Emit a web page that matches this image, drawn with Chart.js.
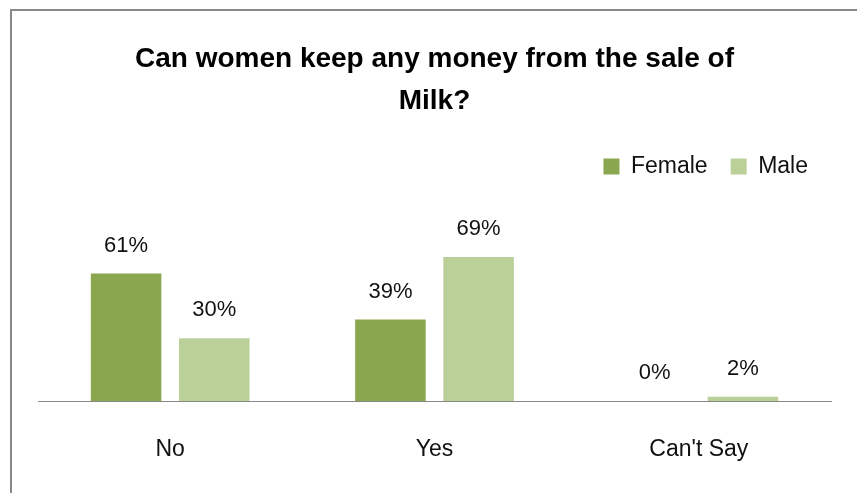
<!DOCTYPE html>
<html>
<head>
<meta charset="utf-8">
<script src="https://cdn.jsdelivr.net/npm/chart.js@4"></script>
<style>
  html, body { margin: 0; padding: 0; background: #fff; overflow: hidden; }
  #frame {
    position: absolute; left: 10px; top: 9px; width: 900px; height: 600px;
    border-left: 2px solid #888; border-top: 2px solid #888;
  }
  #milkChart { position: absolute; left: 0; top: 0; }
</style>
</head>
<body>
<div id="frame"></div>
<canvas id="milkChart" width="857" height="493"></canvas>
<script>
  // survey answers, percent of respondents
  const categories = ['No', 'Yes', "Can't Say"];
  const female = [61, 39, 0];
  const male = [30, 69, 2];

  const FONT = '"Liberation Sans", Arial, sans-serif';

  // writes the percentage above each bar
  const valueLabels = {
    id: 'valueLabels',
    afterDatasetsDraw(chart) {
      const ctx = chart.ctx;
      ctx.save();
      ctx.font = '22px ' + FONT;
      ctx.fillStyle = '#111';
      ctx.textAlign = 'center';
      ctx.textBaseline = 'middle';
      chart.data.datasets.forEach((ds, i) => {
        chart.getDatasetMeta(i).data.forEach((bar, j) => {
          ctx.fillText(ds.data[j] + '%', bar.x, bar.y - 28);
        });
      });
      ctx.restore();
    }
  };

  new Chart(document.getElementById('milkChart'), {
    type: 'bar',
    data: {
      labels: categories,
      datasets: [
        { label: 'Female', data: female, backgroundColor: '#8AA64F' },
        { label: 'Male', data: male, backgroundColor: '#BBCF98' }
      ]
    },
    options: {
      responsive: false,
      animation: false,
      categoryPercentage: 0.667,
      barPercentage: 0.8,
      layout: { padding: { left: 38, right: 26, top: 0, bottom: 0 } },
      plugins: {
        title: {
          display: true,
          text: ['Can women keep any money from the sale of', 'Milk?'],
          color: '#000',
          font: { family: FONT, size: 28, weight: 'bold', lineHeight: '42px' },
          padding: { top: 38, bottom: 10 }
        },
        legend: {
          position: 'top',
          align: 'end',
          labels: {
            color: '#111',
            font: { family: FONT, size: 23 },
            boxWidth: 16,
            boxHeight: 16,
            padding: 23
          }
        },
        tooltip: { enabled: false }
      },
      scales: {
        x: {
          grid: { display: false, drawTicks: false },
          border: { display: true, color: '#888', width: 1 },
          ticks: { color: '#111', font: { family: FONT, size: 23 }, padding: 35 },
          // keep the baseline where the category labels sit below it
          afterFit(scale) { scale.height = 92; }
        },
        y: {
          display: false,
          min: 0,
          max: 102
        }
      }
    },
    plugins: [valueLabels]
  });
</script>
</body>
</html>
